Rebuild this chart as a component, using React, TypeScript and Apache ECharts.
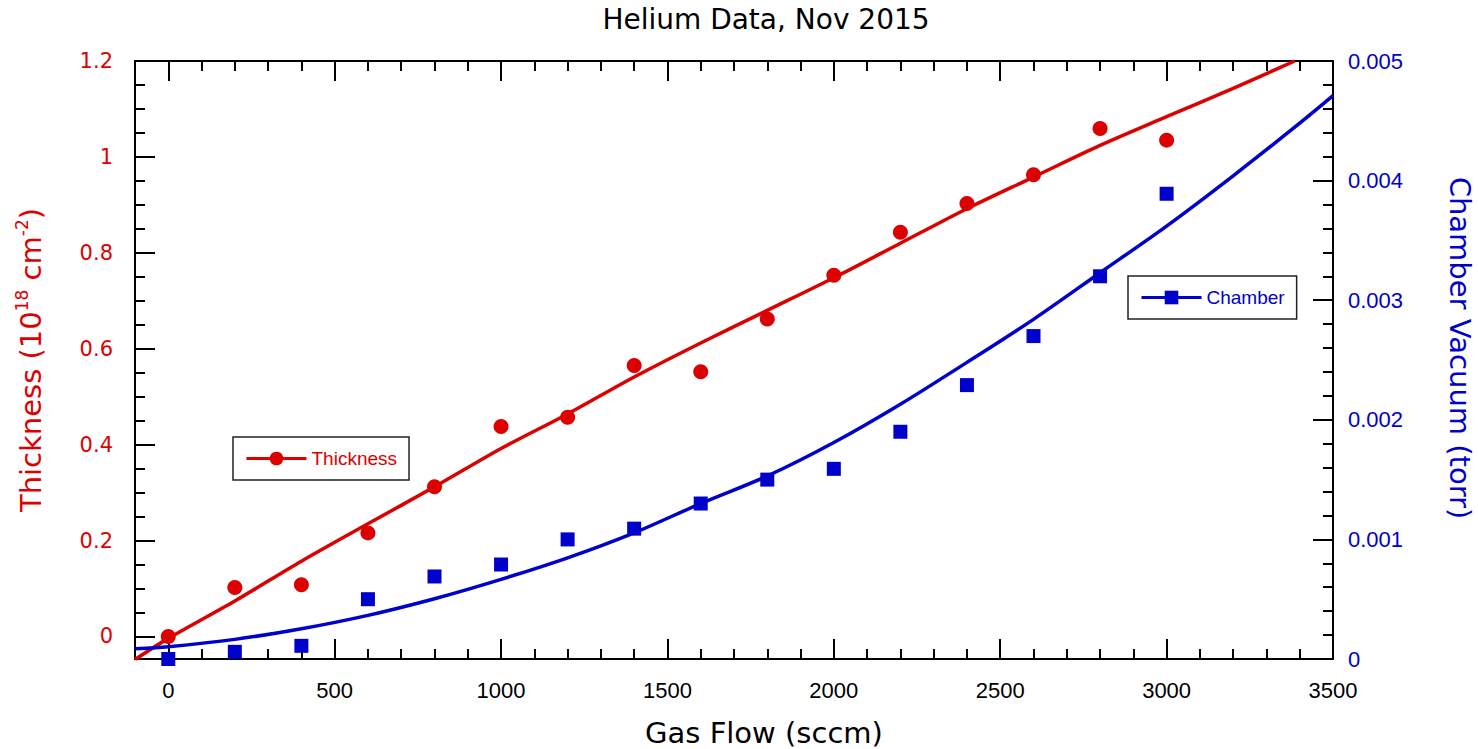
import React, { useEffect, useRef } from 'react';
import * as echarts from 'echarts';

// Measured data points
const gasFlow = [0, 200, 400, 600, 800, 1000, 1200, 1400, 1600, 1800, 2000, 2200, 2400, 2600, 2800, 3000];
const thickness = [0.0, 0.102, 0.108, 0.216, 0.312, 0.438, 0.457, 0.565, 0.552, 0.662, 0.753, 0.843, 0.903, 0.963, 1.059, 1.035];
const chamber = [0.0, 0.00006, 0.00011, 0.0005, 0.00069, 0.00079, 0.001, 0.00109, 0.0013, 0.0015, 0.00159, 0.0019, 0.00229, 0.0027, 0.0032, 0.00389];

// Fit curves
const thicknessFitX = [-100, 0, 200, 400, 600, 800, 1000, 1200, 1400, 1600, 1800, 2000, 2200, 2400, 2600, 2800, 3000, 3200, 3385];
const thicknessFitY = [-0.048, -0.004, 0.074, 0.157, 0.235, 0.312, 0.392, 0.464, 0.541, 0.612, 0.68, 0.748, 0.82, 0.892, 0.958, 1.024, 1.084, 1.143, 1.2];
const chamberFitX = [-100, 0, 200, 400, 600, 800, 1000, 1200, 1400, 1600, 1800, 2000, 2200, 2400, 2600, 2800, 3000, 3200, 3400, 3500];
const chamberFitY = [0.000086, 0.000103, 0.000164, 0.000253, 0.000365, 0.000504, 0.000666, 0.000846, 0.001055, 0.0013, 0.00153, 0.00181, 0.00213, 0.00248, 0.00284, 0.00323, 0.00362, 0.00404, 0.00448, 0.00471];

const RED = '#DD0000';
const BLUE = '#0000CC';
const GEO = 'DejaVu Sans';
const HEL = 'Liberation Sans';

const zip = (xs: number[], ys: number[]) => xs.map((x, i) => [x, ys[i]]);
const plain = (v: number) => String(v);

export default function App() {
  const ref = useRef<HTMLDivElement>(null);
  useEffect(() => {
    const chart = echarts.init(ref.current!, null, { renderer: 'svg' });
    const tickCommon = { show: true, inside: true, length: 20, lineStyle: { color: '#000', width: 2 } };
    const minorCommon = { show: true, length: 10, lineStyle: { color: '#000', width: 2 } };
    const axisLineCommon = { show: true, onZero: false, lineStyle: { color: '#000', width: 2 } };
    const legendCommon = {
      orient: 'horizontal',
      padding: [12, 12, 12, 12],
      itemWidth: 60,
      itemHeight: 17,
      borderColor: '#222',
      borderWidth: 1.5,
      borderRadius: 0,
      selectedMode: false,
      lineStyle: { width: 3 },
    };
    chart.setOption({
      animation: false,
      backgroundColor: '#fff',
      title: {
        text: 'Helium Data, Nov 2015',
        left: 766,
        textAlign: 'center',
        top: 5,
        padding: 0,
        textStyle: { fontFamily: GEO, fontSize: 28, fontWeight: 'normal', color: '#000' },
      },
      grid: { left: 135, top: 61, width: 1198, height: 598, containLabel: false, outerBoundsMode: 'none' },
      legend: [
        {
          ...legendCommon,
          data: ['Thickness'],
          left: 233,
          top: 437,
          textStyle: { color: RED, fontFamily: HEL, fontSize: 19 },
        },
        {
          ...legendCommon,
          data: ['Chamber'],
          left: 1128,
          top: 276,
          textStyle: { color: BLUE, fontFamily: HEL, fontSize: 19 },
        },
      ],
      xAxis: [
        {
          type: 'value',
          position: 'bottom',
          min: -100,
          max: 3500,
          minInterval: 500,
          maxInterval: 500,
          splitNumber: 7,
          axisLine: axisLineCommon,
          axisTick: tickCommon,
          minorTick: { ...minorCommon, splitNumber: 5 },
          splitLine: { show: false },
          minorSplitLine: { show: false },
          axisLabel: { showMinLabel: false, margin: 20, color: '#000', fontFamily: HEL, fontSize: 22, formatter: plain },
          name: 'Gas Flow (sccm)',
          nameLocation: 'middle',
          nameGap: 59,
          nameTextStyle: { fontFamily: GEO, fontSize: 29, color: '#000', padding: [0, 0, 0, 60] },
        },
        {
          type: 'value',
          position: 'top',
          min: -100,
          max: 3500,
          minInterval: 500,
          maxInterval: 500,
          splitNumber: 7,
          axisLine: axisLineCommon,
          axisTick: tickCommon,
          minorTick: { ...minorCommon, splitNumber: 5 },
          splitLine: { show: false },
          axisLabel: { show: false },
        },
      ],
      yAxis: [
        {
          type: 'value',
          position: 'left',
          min: -0.047,
          max: 1.2,
          minInterval: 0.2,
          maxInterval: 0.2,
          splitNumber: 6,
          axisLine: axisLineCommon,
          axisTick: tickCommon,
          minorTick: { ...minorCommon, splitNumber: 4 },
          splitLine: { show: false },
          axisLabel: { showMinLabel: false, margin: 22, color: RED, fontFamily: GEO, fontSize: 21, formatter: plain },
          name: '{a|Thickness (10}{s|18}{a| cm}{s|-2}{a|)}',
          nameLocation: 'middle',
          nameGap: 86,
          nameTextStyle: {
            fontFamily: GEO,
            fontSize: 29,
            color: RED,
            rich: {
              a: { fontFamily: GEO, fontSize: 29, color: RED, lineHeight: 36 },
              s: { fontFamily: GEO, fontSize: 17, color: RED, lineHeight: 17, verticalAlign: 'top' },
            },
          },
        },
        {
          type: 'value',
          position: 'right',
          min: 0,
          max: 0.005,
          interval: 0.001,
          axisLine: axisLineCommon,
          axisTick: tickCommon,
          minorTick: { ...minorCommon, splitNumber: 5 },
          splitLine: { show: false },
          axisLabel: { margin: 15, color: BLUE, fontFamily: HEL, fontSize: 22, formatter: plain },
          name: 'Chamber Vacuum (torr)',
          nameLocation: 'middle',
          nameRotate: -90,
          nameGap: 112,
          nameTextStyle: { fontFamily: GEO, fontSize: 29, color: BLUE, padding: [0, 24, 0, 0] },
        },
      ],
      series: [
        {
          name: 'Thickness',
          type: 'line',
          xAxisIndex: 0,
          yAxisIndex: 0,
          data: zip(thicknessFitX, thicknessFitY),
          smooth: 0.3,
          symbol: 'circle',
          showSymbol: false,
          lineStyle: { color: RED, width: 3.5 },
          itemStyle: { color: RED },
          clip: true,
          z: 2,
        },
        {
          name: 'Thickness data',
          type: 'scatter',
          xAxisIndex: 0,
          yAxisIndex: 0,
          data: zip(gasFlow, thickness),
          symbol: 'circle',
          symbolSize: 15,
          itemStyle: { color: RED, opacity: 1 },
          clip: false,
          z: 3,
        },
        {
          name: 'Chamber',
          type: 'line',
          xAxisIndex: 0,
          yAxisIndex: 1,
          data: zip(chamberFitX, chamberFitY),
          smooth: 0.3,
          symbol: 'rect',
          showSymbol: false,
          lineStyle: { color: BLUE, width: 3.5 },
          itemStyle: { color: BLUE },
          clip: true,
          z: 2,
        },
        {
          name: 'Chamber data',
          type: 'scatter',
          xAxisIndex: 0,
          yAxisIndex: 1,
          data: zip(gasFlow, chamber),
          symbol: 'rect',
          symbolSize: 14,
          itemStyle: { color: BLUE, opacity: 1 },
          clip: false,
          z: 3,
        },
      ],
    });
    return () => chart.dispose();
  }, []);
  return <div ref={ref} style={{ position: 'fixed', left: 0, top: 0, width: 1478, height: 749 }} />;
}
